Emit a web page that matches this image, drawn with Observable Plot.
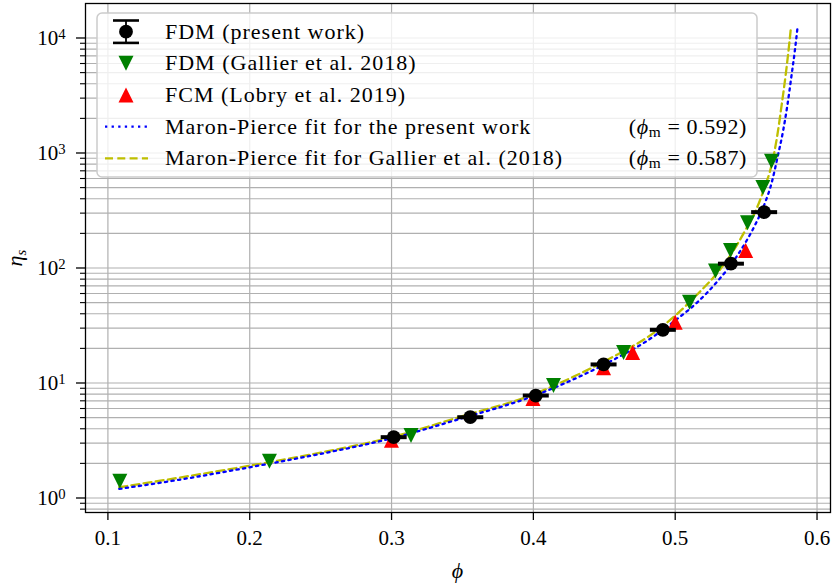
<!DOCTYPE html>
<html><head><meta charset="utf-8">
<script src="https://cdn.jsdelivr.net/npm/d3@7"></script>
<script src="https://cdn.jsdelivr.net/npm/@observablehq/plot@0.6"></script>
<style>
body{margin:0;background:#fff;}
#chart{position:relative;width:832px;height:586px;}
</style></head><body><div id="chart"></div>
<script>
// ---- data ----
const presentPhi = [0.3015, 0.3555, 0.4017, 0.4495, 0.4913, 0.5393, 0.5627];
const presentEta = [3.38, 5.04, 7.78, 14.5, 29.0, 109, 306];
const gallierPhi = [0.1084, 0.2139, 0.3137, 0.4142, 0.4636, 0.5101, 0.5284, 0.539, 0.551, 0.5618, 0.5679];
const gallierEta = [1.40, 2.09, 3.49, 9.51, 18.4, 50.4, 94.2, 142, 248, 501, 849];
const lobryPhi = [0.2999, 0.3997, 0.4495, 0.47, 0.5, 0.5497];
const lobryEta = [3.18, 7.33, 13.6, 18.4, 33.8, 142];
// Maron-Pierce fit curves
const fitPresentPhi = [0.108, 0.15, 0.2, 0.25, 0.3, 0.35, 0.4, 0.43, 0.46, 0.48, 0.5, 0.515, 0.53, 0.54, 0.55, 0.557, 0.563, 0.568, 0.572, 0.576, 0.579, 0.582, 0.5845, 0.5862];
const fitPresentEta = [1.2, 1.44, 1.85, 2.42, 3.3, 4.95, 7.7, 11.0, 16.8, 23.2, 35, 49.5, 77, 110, 170, 246, 360, 550, 900, 1540, 2550, 4700, 8000, 12200];
const fitGallierPhi = [0.108, 0.15, 0.2, 0.25, 0.3, 0.35, 0.4, 0.43, 0.46, 0.48, 0.5, 0.515, 0.53, 0.54, 0.55, 0.557, 0.563, 0.568, 0.572, 0.575, 0.578, 0.5805, 0.5816];
const fitGallierEta = [1.24, 1.5, 1.91, 2.48, 3.38, 5.15, 7.95, 11.6, 17.9, 24.8, 38.5, 58, 91.6, 135, 219, 320, 500, 790, 1425, 2580, 4900, 9100, 12400];
const seriesLabels = ["FDM (present work)", "FDM (Gallier et al. 2018)", "FCM (Lobry et al. 2019)", "Maron-Pierce fit for the present work", "Maron-Pierce fit for Gallier et al. (2018)"];
const phiM = ["0.592", "0.587"];
const xTicks = [0.1, 0.2, 0.3, 0.4, 0.5, 0.6];
const yMajorTicks = [1, 10, 100, 1000, 10000];
const minorMult = [2, 3, 4, 5, 6, 7, 8, 9];
const yMinorTicks = [0.8, 0.9].concat(...yMajorTicks.map(d => minorMult.map(m => m * d)));
const yDomain = [0.748, 19950];
const yMinorIn = yMinorTicks.filter(v => v >= yDomain[0] && v <= yDomain[1]);

const zip = (xs, ys) => xs.map((x, i) => ({phi: x, eta: ys[i]}));
const present = zip(presentPhi, presentEta);
const gallier = zip(gallierPhi, gallierEta);
const lobry = zip(lobryPhi, lobryEta);
const fitPresent = zip(fitPresentPhi, fitPresentEta);
const fitGallier = zip(fitGallierPhi, fitGallierEta);

// ---- custom marker shapes (bbox-centered like matplotlib) ----
const triDown = {draw(c, size){ const h = Math.sqrt(size/Math.PI); c.moveTo(0, h); c.lineTo(-h, -h); c.lineTo(h, -h); c.closePath(); }};
const triUp = {draw(c, size){ const h = Math.sqrt(size/Math.PI); c.moveTo(0, -h); c.lineTo(-h, h); c.lineTo(h, h); c.closePath(); }};
const capSym = {draw(c, size){ const r = Math.sqrt(size/Math.PI); c.rect(-r, -2, 2*r, 4); }};

const serif = "'Liberation Serif', 'DejaVu Serif', serif";
const grid = "#b0b0b0";

const plot = Plot.plot({
  width: 832, height: 586,
  marginLeft: 85, marginRight: 2, marginTop: 3, marginBottom: 74,
  x: {domain: [0.0842, 0.6095], label: null},
  y: {type: "log", domain: yDomain, label: null},
  style: {fontFamily: serif, fontSize: "21px", background: "white", overflow: "visible", color: "black"},
  marks: [
    Plot.gridY(yMinorIn.concat(yMajorTicks), {stroke: grid, strokeOpacity: 1, strokeWidth: 1.2}),
    Plot.gridX(xTicks, {stroke: grid, strokeOpacity: 1, strokeWidth: 1.2}),
    Plot.line(fitGallier, {x: "phi", y: "eta", stroke: "#bfbf00", strokeWidth: 2.3, strokeDasharray: "8,4.3", curve: "monotone-x"}),
    Plot.line(fitPresent, {x: "phi", y: "eta", stroke: "#0000ff", strokeWidth: 2.3, strokeDasharray: "2.3,4.3", curve: "monotone-x"}),
    Plot.dot(gallier, {x: "phi", y: "eta", symbol: triDown, r: 7.5, fill: "#008000"}),
    Plot.dot(lobry, {x: "phi", y: "eta", symbol: triUp, r: 7.5, fill: "#ff0000"}),
    Plot.dot(present, {x: "phi", y: "eta", symbol: capSym, r: 13, fill: "black"}),
    Plot.dot(present, {x: "phi", y: "eta", r: 6.9, fill: "black"}),
    Plot.axisX(xTicks, {tickSize: 8, tickPadding: 10, strokeWidth: 1.3, fontSize: 21, tickFormat: d => d.toFixed(1)}),
    Plot.axisY(yMajorTicks, {tickSize: 9, tickPadding: 11, strokeWidth: 1.3, fontSize: 21, tickFormat: d => "10^" + Math.round(Math.log10(d))}),
    Plot.axisY(yMinorIn, {tickSize: 5, strokeWidth: 1.1, tickFormat: () => ""}),
    Plot.frame({stroke: "black", strokeWidth: 1.3})
  ]
});
document.getElementById("chart").appendChild(plot);

const svg = d3.select(plot);
// superscript exponents on the y tick labels
svg.selectAll('g[aria-label="y-axis tick label"] text').each(function(){
  const t = this.textContent;
  if (!t.startsWith("10^")) return;
  const e = t.slice(3);
  const s = d3.select(this);
  s.text("10");
  s.append("tspan").attr("dy", "-0.42em").attr("font-size", "0.7em").text(e);
});

// axis labels
svg.append("text").attr("x", 457.5).attr("y", 578).attr("text-anchor", "middle")
  .attr("font-family", serif).attr("font-style", "italic").attr("font-size", 22).text("ϕ");
const yl = svg.append("text").attr("transform", "translate(22,258) rotate(-90)")
  .attr("text-anchor", "middle").attr("font-family", serif).attr("font-size", 22);
yl.append("tspan").attr("font-style", "italic").text("η");
yl.append("tspan").attr("font-style", "italic").attr("font-size", "0.68em").attr("dy", "0.25em").text("s");

// legend
const lg = svg.append("g").attr("font-family", serif).attr("font-size", 22).attr("text-anchor", "start");
lg.append("rect").attr("x", 97).attr("y", 13).attr("width", 660).attr("height", 164).attr("rx", 5)
  .attr("fill", "white").attr("fill-opacity", 0.8).attr("stroke", "#cccccc").attr("stroke-width", 1.5);
const rowY = [31.7, 63.3, 95, 126.7, 158.3];
const hx = 126;
// errorbar handle
lg.append("line").attr("x1", hx).attr("x2", hx).attr("y1", rowY[0]-11.2).attr("y2", rowY[0]+11.2).attr("stroke", "black").attr("stroke-width", 1.8);
[rowY[0]-11.2, rowY[0]+11.2].forEach(y => lg.append("line").attr("x1", hx-13).attr("x2", hx+13).attr("y1", y).attr("y2", y).attr("stroke", "black").attr("stroke-width", 2.6));
lg.append("circle").attr("cx", hx).attr("cy", rowY[0]).attr("r", 6.9).attr("fill", "black");
// triangles
const h = 7.5;
lg.append("path").attr("d", `M${hx},${rowY[1]+h}L${hx-h},${rowY[1]-h}L${hx+h},${rowY[1]-h}Z`).attr("fill", "#008000");
lg.append("path").attr("d", `M${hx},${rowY[2]-h}L${hx-h},${rowY[2]+h}L${hx+h},${rowY[2]+h}Z`).attr("fill", "#ff0000");
// line handles
lg.append("line").attr("x1", 105).attr("x2", 148).attr("y1", rowY[3]).attr("y2", rowY[3]).attr("stroke", "#0000ff").attr("stroke-width", 2.3).attr("stroke-dasharray", "2.3,4.3");
lg.append("line").attr("x1", 105).attr("x2", 148).attr("y1", rowY[4]).attr("y2", rowY[4]).attr("stroke", "#bfbf00").attr("stroke-width", 2.3).attr("stroke-dasharray", "8,4.3");
seriesLabels.forEach((t, i) => {
  lg.append("text").attr("x", 165).attr("y", rowY[i] + 6.8).attr("text-anchor", "start").attr("letter-spacing", "1px").text(t);
});
phiM.forEach((v, i) => {
  const tx = lg.append("text").attr("x", 747).attr("y", rowY[3+i] + 6.8).attr("text-anchor", "end").attr("letter-spacing", "0.6px");
  tx.append("tspan").text("(");
  tx.append("tspan").attr("font-style", "italic").text("ϕ");
  tx.append("tspan").attr("font-size", "0.7em").attr("dy", "0.22em").text("m");
  tx.append("tspan").attr("dy", "-0.154em").text(" = " + v + ")");
});
</script></body></html>
